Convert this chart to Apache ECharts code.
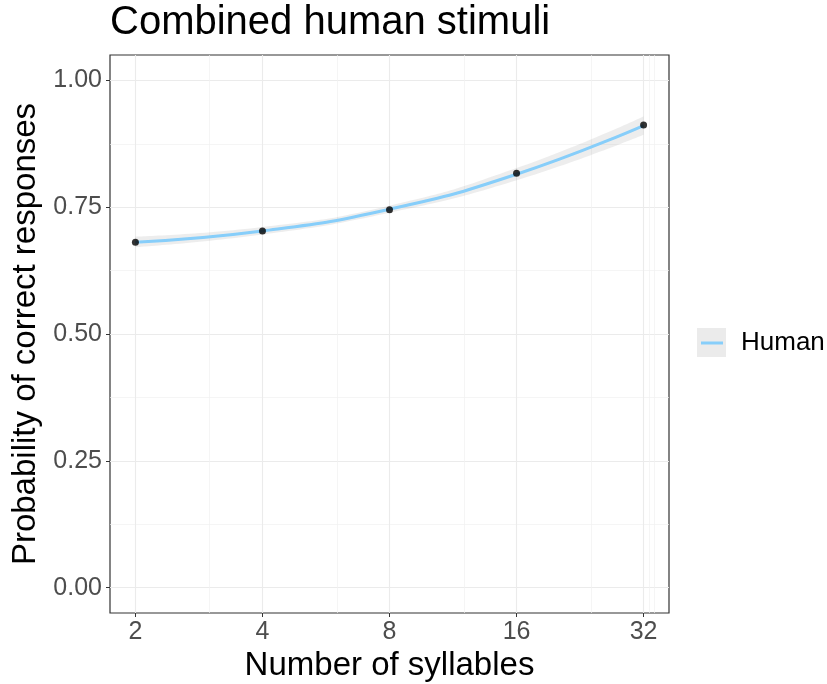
<!DOCTYPE html>
<html>
<head>
<meta charset="utf-8">
<script src="https://cdn.jsdelivr.net/npm/echarts@6/dist/echarts.min.js"></script>
<style>
  html, body { margin: 0; padding: 0; background: #fff; }
  #main { width: 827px; height: 684px; }
</style>
</head>
<body>
<div id="main"></div>
<script>
// data
var syllables = [2, 4, 8, 16, 32];
var observed = [0.681, 0.703, 0.745, 0.817, 0.912];
var fitted = [0.681, 0.703, 0.746, 0.815, 0.911];
var fitLower = [0.671, 0.696, 0.739, 0.803, 0.893];
var fitUpper = [0.692, 0.711, 0.753, 0.827, 0.929];
var xTicks = [2, 4, 8, 16, 32];
var xMinorTicks = [3, 6, 12, 24, 33, 34];
var yTicks = [0, 0.25, 0.5, 0.75, 1];
var yMinorTicks = [0.125, 0.375, 0.625, 0.875];

var font = 'Liberation Sans, Arial, Helvetica, sans-serif';
var lx = function (v) { return Math.log2(v); };

var myChart = echarts.init(document.getElementById('main'));

var pts = syllables.map(function (s, i) { return [lx(s), observed[i]]; });
var fitPts = syllables.map(function (s, i) { return [lx(s), fitted[i]]; });
// band rows are [value, x] so the stack runs along y
var lowPts = syllables.map(function (s, i) { return [fitLower[i], lx(s)]; });
var bandPts = syllables.map(function (s, i) { return [fitUpper[i] - fitLower[i], lx(s)]; });

var option = {
    animation: false,
    textStyle: {fontFamily: font},
    title: {
        text: 'Combined human stimuli',
        left: 110,
        top: 3,
        padding: 0,
        textStyle: {fontFamily: font, fontSize: 40, fontWeight: 'normal', color: '#000'}
    },
    legend: {
        data: ['Human'],
        left: 701,
        top: 330,
        icon: 'rect',
        itemWidth: 22,
        itemHeight: 3,
        padding: 0,
        textStyle: {fontFamily: font, fontSize: 26, color: '#000', padding: [0, 0, 0, 13]}
    },
    graphic: [{
        type: 'rect',
        left: 697,
        top: 328,
        z: -1,
        shape: {width: 29, height: 29},
        style: {fill: '#EBEBEB'}
    }],
    grid: {
        left: 110, right: 158, top: 55, bottom: 71,
        outerBoundsMode: 'none',
        show: true, borderColor: '#333', borderWidth: 1.2, backgroundColor: 'transparent'
    },
    xAxis: [{
        type: 'value',
        min: lx(2) - 0.2,
        max: lx(32) + 0.2,
        name: 'Number of syllables',
        nameLocation: 'middle',
        nameGap: 32,
        nameTextStyle: {fontFamily: font, fontSize: 33, color: '#000'},
        axisLine: {show: false, onZero: false},
        axisTick: {show: true, length: 4, lineStyle: {color: '#333'}, customValues: xTicks.map(lx)},
        axisLabel: {
            customValues: xTicks.map(lx), margin: 7,
            fontFamily: font, fontSize: 25, color: '#4D4D4D',
            formatter: function (v) { return String(Math.round(Math.pow(2, v))); }
        },
        splitLine: {show: true, lineStyle: {color: '#EBEBEB', width: 1.1}}
    }, {
        type: 'value',
        min: lx(2) - 0.2,
        max: lx(32) + 0.2,
        axisLine: {show: false, onZero: false},
        axisTick: {show: false, customValues: xMinorTicks.map(lx)},
        axisLabel: {show: false, customValues: xMinorTicks.map(lx)},
        splitLine: {show: true, lineStyle: {color: '#F0F0F0', width: 0.7}}
    }],
    yAxis: [{
        type: 'value',
        min: -0.05,
        max: 1.05,
        name: 'Probability of correct responses',
        nameLocation: 'middle',
        nameGap: 64,
        nameTextStyle: {fontFamily: font, fontSize: 33, color: '#000'},
        axisLine: {show: false, onZero: false},
        axisTick: {show: true, length: 4, lineStyle: {color: '#333'}, customValues: yTicks},
        axisLabel: {
            customValues: yTicks, margin: 8,
            fontFamily: font, fontSize: 25, color: '#4D4D4D',
            formatter: function (v) { return v.toFixed(2); }
        },
        splitLine: {show: true, lineStyle: {color: '#EBEBEB', width: 1.1}}
    }, {
        type: 'value',
        min: -0.05,
        max: 1.05,
        axisLine: {show: false, onZero: false},
        axisTick: {show: false, customValues: yMinorTicks},
        axisLabel: {show: false, customValues: yMinorTicks},
        splitLine: {show: true, lineStyle: {color: '#F0F0F0', width: 0.7}}
    }],
    series: [
        {
            name: 'lower',
            type: 'line',
            data: lowPts,
            encode: {x: 1, y: 0},
            stack: 'band',
            smooth: true,
            symbol: 'none',
            lineStyle: {opacity: 0},
            silent: true
        },
        {
            name: 'band',
            type: 'line',
            data: bandPts,
            encode: {x: 1, y: 0},
            stack: 'band',
            smooth: true,
            symbol: 'none',
            lineStyle: {opacity: 0},
            areaStyle: {color: '#999', opacity: 0.18},
            silent: true
        },
        {
            name: 'Human',
            type: 'line',
            data: fitPts,
            smooth: true,
            symbol: 'none',
            color: '#87CEFA',
            lineStyle: {width: 3, color: '#87CEFA'},
            z: 3
        },
        {
            name: 'points',
            type: 'scatter',
            data: pts,
            symbolSize: 7,
            itemStyle: {color: '#000'},
            z: 4
        }
    ]
};
myChart.setOption(option);
</script>
</body>
</html>
